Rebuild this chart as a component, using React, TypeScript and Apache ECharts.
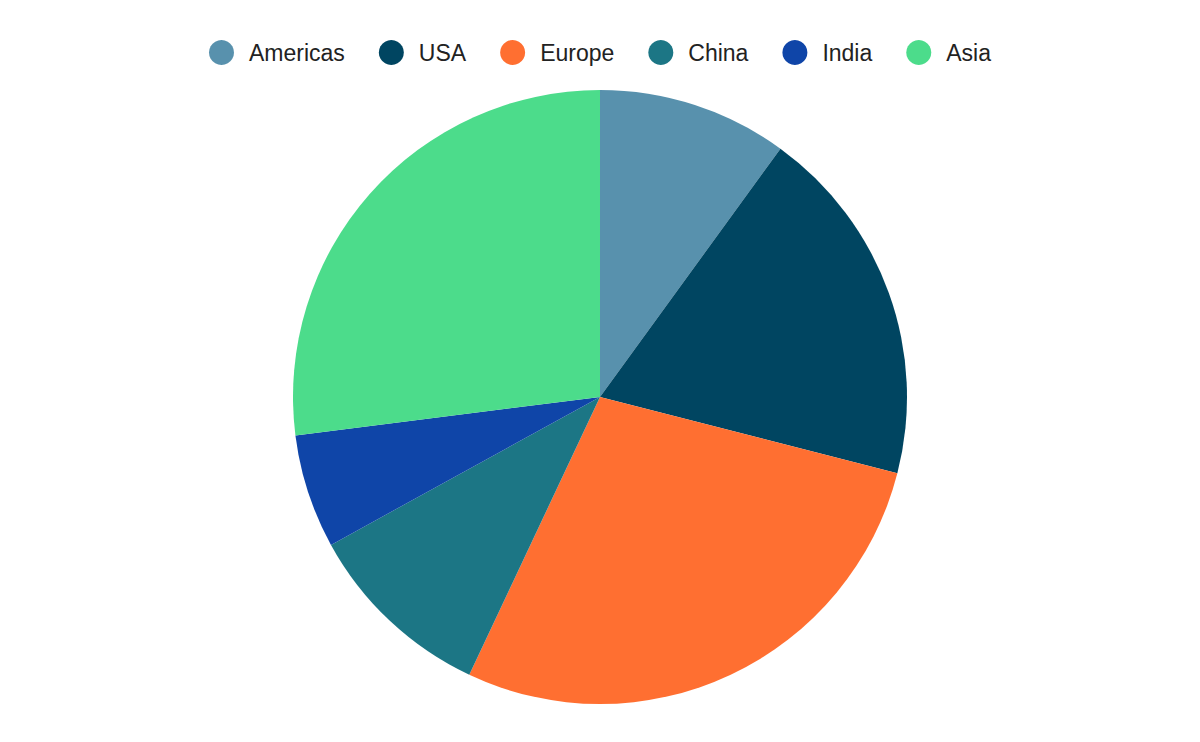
import React, { useEffect, useRef } from "react";
import * as echarts from "echarts";

const regions = ["Americas", "USA", "Europe", "China", "India", "Asia"];
const shares = [10, 19, 28, 10, 6, 27];
const palette = ["#5891ad", "#004561", "#ff6f31", "#1c7685", "#0f45a8", "#4cdc8b"];

export default function App() {
  const ref = useRef<HTMLDivElement>(null);

  useEffect(() => {
    document.body.style.margin = "0";
    if (!ref.current) return;
    const chart = echarts.init(ref.current, undefined, { renderer: "svg" });
    chart.setOption({
      animation: false,
      color: palette,
      legend: {
        top: 35,
        left: "center",
        icon: "circle",
        itemWidth: 25,
        itemHeight: 25,
        itemGap: 34,
        textStyle: {
          fontFamily: "Liberation Sans, Arial, sans-serif",
          fontSize: 23,
          color: "#222",
          padding: [0, 0, 0, 10],
        },
        data: regions,
      },
      series: [
        {
          type: "pie",
          center: [600, 397],
          radius: 307,
          startAngle: 90,
          clockwise: true,
          label: { show: false },
          labelLine: { show: false },
          itemStyle: { borderWidth: 0 },
          data: regions.map((name, i) => ({ name, value: shares[i] })),
        },
      ],
    });
    return () => chart.dispose();
  }, []);

  return <div ref={ref} style={{ width: 1200, height: 742 }} />;
}
